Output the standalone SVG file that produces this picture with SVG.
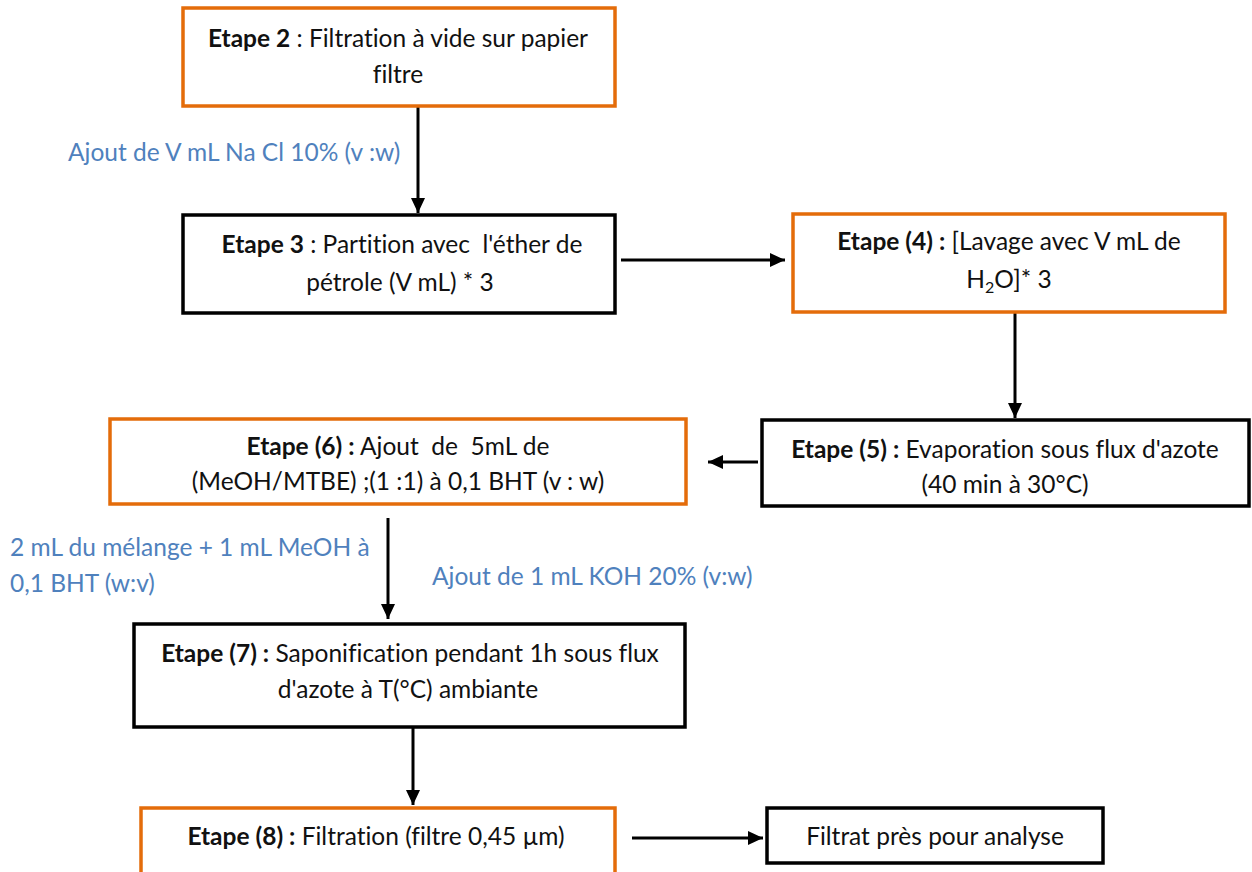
<svg xmlns="http://www.w3.org/2000/svg" width="1252" height="872" viewBox="0 0 1252 872">
<style>
.box{fill:#fff;stroke-width:3.5}
.or{stroke:#E46C0A}
.bk{stroke:#000}
text{font-family:Lato,"Open Sans",sans-serif;font-size:24.5px;fill:#111;font-variant-ligatures:none}
.c{text-anchor:middle}
.b{font-weight:bold}
.lbl{fill:#4F81BD}
.con{stroke:#000;stroke-width:3;fill:none;marker-end:url(#ah)}
</style>
<defs>
<marker id="ah" markerUnits="userSpaceOnUse" markerWidth="16" markerHeight="14" refX="15" refY="7" orient="auto">
<path d="M0,0 L15,7 L0,14 Z" fill="#000"/>
</marker>
</defs>
<rect width="1252" height="872" fill="#fff"/>
<g id="connectors">
<line class="con" x1="418" y1="106" x2="418" y2="213"/>
<line class="con" x1="621" y1="260" x2="785" y2="260"/>
<line class="con" x1="1015" y1="312" x2="1015" y2="418"/>
<line class="con" x1="758" y1="462" x2="708" y2="462"/>
<line class="con" x1="388" y1="518" x2="388" y2="619"/>
<line class="con" x1="413" y1="727" x2="413" y2="805"/>
<line class="con" x1="632" y1="838" x2="763" y2="838"/>
</g>
<g id="labels">
<text class="lbl" x="68" y="161">Ajout de V mL Na Cl 10% (v :w)</text>
<text class="lbl" x="10" y="556">2 mL du mélange + 1 mL MeOH à</text>
<text class="lbl" x="10" y="592">0,1 BHT (w:v)</text>
<text class="lbl" x="432" y="585">Ajout de 1 mL KOH 20% (v:w)</text>
</g>
<g id="n2">
<rect class="box or" x="183" y="8" width="432" height="98"/>
<text class="c" x="398" y="47"><tspan class="b">Etape 2</tspan> : Filtration à vide sur papier</text>
<text class="c" x="398" y="83">filtre</text>
</g>
<g id="n3">
<rect class="box bk" x="183" y="215" width="432" height="98"/>
<text class="c" x="402" y="253" xml:space="preserve"><tspan class="b">Etape 3</tspan> : Partition avec  l'éther de</text>
<text class="c" x="400" y="291">pétrole (V mL) * 3</text>
</g>
<g id="n4">
<rect class="box or" x="793" y="214" width="432" height="98"/>
<text class="c" x="1009" y="250"><tspan class="b">Etape (4) :</tspan> [Lavage avec V mL de</text>
<text class="c" x="1009" y="288">H<tspan font-size="16" dy="5">2</tspan><tspan dy="-5">O]* 3</tspan></text>
</g>
<g id="n5">
<rect class="box bk" x="762" y="420" width="487" height="86"/>
<text class="c" x="1005" y="458"><tspan class="b">Etape (5) :</tspan> Evaporation sous flux d'azote</text>
<text class="c" x="1005" y="493">(40 min à 30°C)</text>
</g>
<g id="n6">
<rect class="box or" x="110" y="419" width="576" height="85"/>
<text class="c" x="398" y="455" xml:space="preserve"><tspan class="b">Etape (6) :</tspan> Ajout  de  5mL de</text>
<text class="c" x="398" y="490">(MeOH/MTBE) ;(1 :1) à 0,1 BHT (v : w)</text>
</g>
<g id="n7">
<rect class="box bk" x="134" y="624" width="551" height="103"/>
<text class="c" x="410" y="662"><tspan class="b">Etape (7) :</tspan> Saponification pendant 1h sous flux</text>
<text class="c" x="408" y="698">d'azote à T(°C) ambiante</text>
</g>
<g id="n8">
<rect class="box or" x="141" y="808" width="474" height="66"/>
<text class="c" x="376" y="845"><tspan class="b">Etape (8) :</tspan> Filtration (filtre 0,45 µm)</text>
</g>
<g id="n9">
<rect class="box bk" x="767" y="808" width="336" height="55"/>
<text class="c" x="935" y="845">Filtrat près pour analyse</text>
</g>
</svg>
